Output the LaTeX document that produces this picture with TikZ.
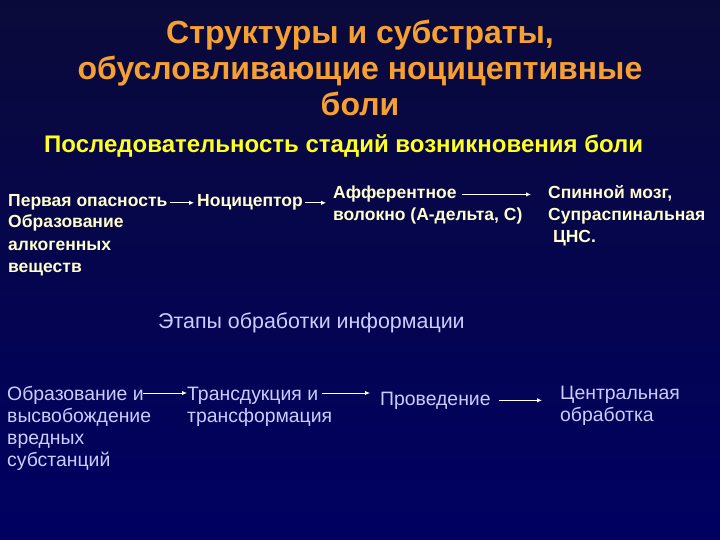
\documentclass[tikz,border=0pt]{standalone}
\usepackage{fontspec}
\setmainfont{Liberation Sans}
\usetikzlibrary{positioning,arrows.meta}
\definecolor{bgtop}{HTML}{0A0A3A}
\definecolor{bgbot}{HTML}{000062}
\definecolor{titleor}{HTML}{F5A030}
\definecolor{subyel}{HTML}{FFFF22}
\definecolor{paleyel}{HTML}{FFFFCC}
\definecolor{lav}{HTML}{CCCCFF}

\begin{document}
\begin{tikzpicture}[x=1pt,y=-1pt,>={Latex[length=5pt,width=4.5pt]},
    ttl/.style={text=titleor,font=\fontsize{32}{36}\selectfont\bfseries,align=center,anchor=base,inner sep=0pt},
    sub/.style={text=subyel,font=\fontsize{24}{28}\selectfont\bfseries,anchor=base west,inner sep=0pt},
    stage/.style={text=paleyel,font=\fontsize{17.5}{22}\selectfont\bfseries,align=left,anchor=base west,inner sep=0pt},
    phase/.style={text=lav,font=\fontsize{19.4}{22}\selectfont,align=left,anchor=base west,inner sep=0pt},
    arr/.style={->,white,line width=0.9pt,shorten <=2pt}]
  \useasboundingbox (0,0) rectangle (720,540);
  \shade[top color=bgtop,bottom color=bgbot] (0,0) rectangle (720,540);

  \node[ttl] (title) at (360,116) {Структуры и субстраты,\\обусловливающие ноцицептивные\\боли};
  \node[sub] (seq) at (44,153) {Последовательность стадий возникновения боли};

  \node[stage] (danger) at (8,207) {Первая опасность};
  \node[stage] (dangerb) at (8,272) {Образование\\алкогенных\\веществ};
  \node[stage] (nocic) at (197,207) {Ноцицептор};
  \node[stage] (aff) at (333,199) {Афферентное};
  \node[stage] (affb) at (333,221) {волокно (А-дельта, С)};
  \node[stage] (cord) at (548,243) {Спинной мозг,\\Супраспинальная\\\ ЦНС.};

  \draw[arr,shorten >=3pt] (danger.east) -- (nocic.west);
  \draw[arr,shorten >=7pt] (nocic.east) -- (aff.west |- nocic.east);
  \draw[arr,shorten <=5pt,shorten >=17pt] (aff.east) -- (cord.west |- aff.east);

  \node[phase,font=\fontsize{21.4}{22}\selectfont] (stages) at (158,328) {Этапы обработки информации};

  \node[phase] (release) at (7,466) {Образование и\\высвобождение\\вредных\\субстанций};
  \node[phase] (transd) at (187,422) {Трансдукция и\\трансформация};
  \node[phase] (conduct) at (380,405) {Проведение};
  \node[phase] (central) at (560,421) {Центральная\\обработка};

  \coordinate (releasee) at (143,393);
  \coordinate (transde) at (320,393);
  \draw[arr,shorten <=0pt] (releasee) -- (transd.west |- releasee);
  \draw[arr,shorten >=10pt] (transde) -- (conduct.west |- transde);
  \draw[arr,shorten <=8pt,shorten >=18pt] (conduct.east) -- (central.west |- conduct.east);
\end{tikzpicture}
\end{document}
